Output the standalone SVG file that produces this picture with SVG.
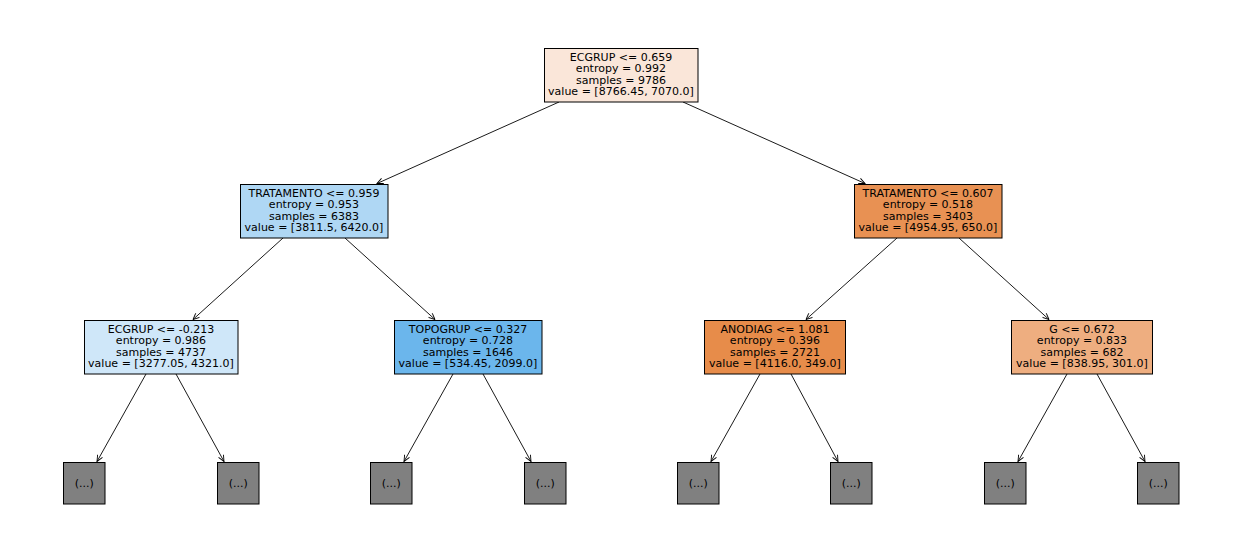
<svg xmlns="http://www.w3.org/2000/svg" width="1242" height="558" viewBox="0 0 1242 558">
<style>
  .box { stroke: #000; stroke-width: 1; }
  .leaf { fill: #808080; stroke: #000; stroke-width: 1; }
  text { font-family: "DejaVu Sans", "Liberation Sans", sans-serif; font-size: 11px; fill: #000; text-anchor: middle; }
  .edge { stroke: #000; stroke-width: 0.9; fill: none; marker-end: url(#arr); }
</style>
<defs>
  <marker id="arr" viewBox="0 0 10 10" markerUnits="userSpaceOnUse" markerWidth="10" markerHeight="10" refX="8.5" refY="5" orient="auto">
    <path d="M2.3,2.2 L8.5,5 L2.3,7.8" fill="none" stroke="#000" stroke-width="0.9"/>
  </marker>
</defs>
<rect width="1242" height="558" fill="#fff"/>
<g id="connectors">
  <line class="edge" x1="559" y1="102" x2="377" y2="183.5"/>
  <line class="edge" x1="683" y1="102" x2="865" y2="183.5"/>
  <line class="edge" x1="283" y1="238" x2="193" y2="319.5"/>
  <line class="edge" x1="345" y1="238" x2="435" y2="319.5"/>
  <line class="edge" x1="897" y1="238" x2="806" y2="319.5"/>
  <line class="edge" x1="959" y1="238" x2="1049" y2="319.5"/>
  <line class="edge" x1="146" y1="374" x2="97" y2="461.5"/>
  <line class="edge" x1="176" y1="374" x2="224" y2="461.5"/>
  <line class="edge" x1="453" y1="374" x2="404" y2="461.5"/>
  <line class="edge" x1="483" y1="374" x2="531" y2="461.5"/>
  <line class="edge" x1="760" y1="374" x2="711" y2="461.5"/>
  <line class="edge" x1="791" y1="374" x2="838" y2="461.5"/>
  <line class="edge" x1="1067" y1="374" x2="1018" y2="461.5"/>
  <line class="edge" x1="1097" y1="374" x2="1145" y2="461.5"/>
</g>
<g id="n0">
  <rect class="box" x="544.5" y="48.5" width="153.5" height="53.5" fill="#fae6d9"/>
  <text x="621" y="60.5">ECGRUP &lt;= 0.659</text>
  <text x="621" y="72">entropy = 0.992</text>
  <text x="621" y="83.5">samples = 9786</text>
  <text x="621" y="95">value = [8766.45, 7070.0]</text>
</g>
<g id="n1">
  <rect class="box" x="240.5" y="184.5" width="147.5" height="53.5" fill="#afd7f4"/>
  <text x="314" y="196.5">TRATAMENTO &lt;= 0.959</text>
  <text x="314" y="208">entropy = 0.953</text>
  <text x="314" y="219.5">samples = 6383</text>
  <text x="314" y="231">value = [3811.5, 6420.0]</text>
</g>
<g id="n8">
  <rect class="box" x="854.5" y="184.5" width="147.5" height="53.5" fill="#e89153"/>
  <text x="928" y="196.5">TRATAMENTO &lt;= 0.607</text>
  <text x="928" y="208">entropy = 0.518</text>
  <text x="928" y="219.5">samples = 3403</text>
  <text x="928" y="231">value = [4954.95, 650.0]</text>
</g>
<g id="n2">
  <rect class="box" x="84.5" y="320.5" width="153.5" height="53.5" fill="#cfe7f9"/>
  <text x="161" y="332.5">ECGRUP &lt;= -0.213</text>
  <text x="161" y="344">entropy = 0.986</text>
  <text x="161" y="355.5">samples = 4737</text>
  <text x="161" y="367">value = [3277.05, 4321.0]</text>
</g>
<g id="n5">
  <rect class="box" x="394.5" y="320.5" width="147.5" height="53.5" fill="#6bb6ec"/>
  <text x="468" y="332.5">TOPOGRUP &lt;= 0.327</text>
  <text x="468" y="344">entropy = 0.728</text>
  <text x="468" y="355.5">samples = 1646</text>
  <text x="468" y="367">value = [534.45, 2099.0]</text>
</g>
<g id="n9">
  <rect class="box" x="704.5" y="320.5" width="141" height="53.5" fill="#e78c4a"/>
  <text x="775" y="332.5">ANODIAG &lt;= 1.081</text>
  <text x="775" y="344">entropy = 0.396</text>
  <text x="775" y="355.5">samples = 2721</text>
  <text x="775" y="367">value = [4116.0, 349.0]</text>
</g>
<g id="n12">
  <rect class="box" x="1011.5" y="320.5" width="141" height="53.5" fill="#eeae80"/>
  <text x="1082" y="332.5">G &lt;= 0.672</text>
  <text x="1082" y="344">entropy = 0.833</text>
  <text x="1082" y="355.5">samples = 682</text>
  <text x="1082" y="367">value = [838.95, 301.0]</text>
</g>
<g id="leaf1"><rect class="leaf" x="63.5" y="462.5" width="41.5" height="41.5"/><text x="84.25" y="487">(...)</text></g>
<g id="leaf2"><rect class="leaf" x="217.5" y="462.5" width="41.5" height="41.5"/><text x="238.25" y="487">(...)</text></g>
<g id="leaf3"><rect class="leaf" x="370.5" y="462.5" width="41.5" height="41.5"/><text x="391.25" y="487">(...)</text></g>
<g id="leaf4"><rect class="leaf" x="524.5" y="462.5" width="41.5" height="41.5"/><text x="545.25" y="487">(...)</text></g>
<g id="leaf5"><rect class="leaf" x="677.5" y="462.5" width="41.5" height="41.5"/><text x="698.25" y="487">(...)</text></g>
<g id="leaf6"><rect class="leaf" x="830.5" y="462.5" width="41.5" height="41.5"/><text x="851.25" y="487">(...)</text></g>
<g id="leaf7"><rect class="leaf" x="984.5" y="462.5" width="41.5" height="41.5"/><text x="1005.25" y="487">(...)</text></g>
<g id="leaf8"><rect class="leaf" x="1137.5" y="462.5" width="41.5" height="41.5"/><text x="1158.25" y="487">(...)</text></g>
</svg>
